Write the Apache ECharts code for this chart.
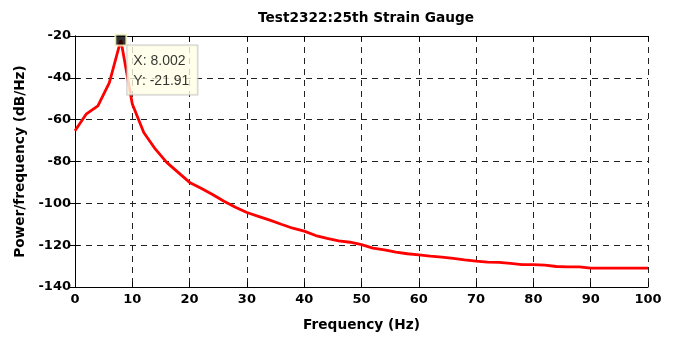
<!DOCTYPE html>
<html><head><meta charset="utf-8">
<script src="https://cdn.jsdelivr.net/npm/echarts@6/dist/echarts.min.js"></script>
<style>html,body{margin:0;padding:0;background:#fff}#c{width:680px;height:340px}</style>
</head><body><div id="c"></div>
<script>
var freq = [0,2,4,6,8,10,12,14,16,18,20,22,24,26,28,30,32,34,36,38,40,42,44,46,48,50,52,54,56,58,60,62,64,66,68,70,72,74,76,78,80,82,84,86,88,90,92,94,96,98,100];
var psd = [-65.3,-57.2,-53.4,-42.3,-21.91,-52.5,-66.1,-74,-80.4,-85.2,-90,-92.8,-95.8,-99,-101.9,-104.4,-106.2,-108,-110,-111.9,-113.3,-115.4,-116.7,-117.9,-118.6,-119.7,-121.4,-122.2,-123.3,-124.1,-124.6,-125.2,-125.7,-126.3,-127,-127.6,-128.1,-128.2,-128.7,-129.3,-129.3,-129.5,-130.2,-130.4,-130.4,-131,-131,-131,-131,-131,-131];
var tipPoint = [8.002, -21.91];
var xTicks = [0,10,20,30,40,50,60,70,80,90,100];
var yTicks = [-140,-120,-100,-80,-60,-40,-20];
var titleText = 'Test2322:25th Strain Gauge';
var xName = 'Frequency (Hz)';
var yName = 'Power/frequency (dB/Hz)';

var chart = echarts.init(document.getElementById('c'), null, {renderer:'canvas'});
var BFONT = 'DejaVu Sans, Liberation Sans, sans-serif';
var TFONT = 'Liberation Sans, Arial, sans-serif';
var data = freq.map(function(f,i){return [f, psd[i]];});
var gridLine = {show:true, lineStyle:{color:'#222', type:[6,5], width:1}};
chart.setOption({
  animation:false,
  title:{text:titleText, left:361, top:6, textAlign:'center',
    textStyle:{fontFamily:BFONT, fontSize:13.7, fontWeight:'bold', color:'#000'}},
  grid:{left:75, right:32, top:36, bottom:53},
  xAxis:[{type:'value', min:0, max:100, interval:10, position:'bottom',
    name:xName, nameLocation:'middle', nameGap:31,
    nameTextStyle:{fontFamily:BFONT, fontSize:13.7, fontWeight:'bold', color:'#000'},
    axisLine:{show:true, lineStyle:{color:'#000', width:1}},
    axisTick:{show:true, inside:true, length:5, lineStyle:{color:'#000'}},
    axisLabel:{fontFamily:BFONT, fontSize:13, fontWeight:'bold', color:'#000', margin:6},
    splitLine:gridLine},
   {type:'value', min:0, max:100, interval:10, position:'top',
    axisLine:{show:true, lineStyle:{color:'#000', width:1}},
    axisTick:{show:true, inside:true, length:5, lineStyle:{color:'#000'}},
    axisLabel:{show:false}, splitLine:{show:false}}],
  yAxis:[{type:'value', min:-140, max:-20, interval:20, position:'left',
    name:yName, nameLocation:'middle', nameGap:44, nameRotate:90,
    nameTextStyle:{fontFamily:BFONT, fontSize:13.7, fontWeight:'bold', color:'#000'},
    axisLine:{show:true, lineStyle:{color:'#000', width:1}},
    axisTick:{show:true, inside:true, length:5, lineStyle:{color:'#000'}},
    axisLabel:{fontFamily:BFONT, fontSize:13, fontWeight:'bold', color:'#000', margin:4},
    splitLine:gridLine},
   {type:'value', min:-140, max:-20, interval:20, position:'right',
    axisLine:{show:true, lineStyle:{color:'#000', width:1}},
    axisTick:{show:true, inside:true, length:5, lineStyle:{color:'#000'}},
    axisLabel:{show:false}, splitLine:{show:false}}],
  series:[
    {type:'line', data:data, showSymbol:false, symbol:'none', smooth:false,
      lineStyle:{color:'#ff0000', width:2.8}, clip:true, z:3},
    {type:'scatter', data:[tipPoint], symbol:'rect', symbolSize:11, z:5,
      itemStyle:{color:'#000', borderColor:'#ffffcc', borderWidth:2},
      label:{show:true, position:[13,12], align:'left', verticalAlign:'top',
        formatter:function(p){return 'X: '+p.value[0].toFixed(3)+'\nY: '+p.value[1].toFixed(2);},
        fontFamily:TFONT, fontSize:14, color:'#000', lineHeight:20,
        backgroundColor:'#ffffe6', borderColor:'#bbbbbb', borderWidth:1,
        padding:[6,8,3,6]}}
  ]
});
</script></body></html>
